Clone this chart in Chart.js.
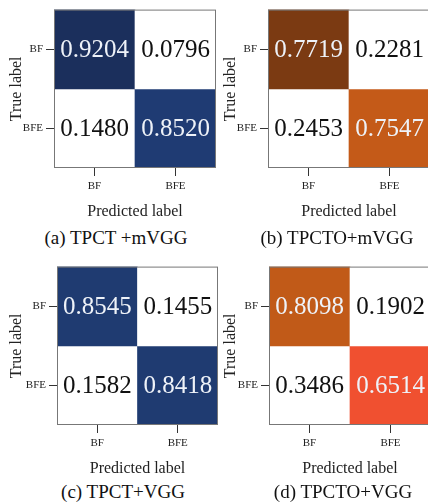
<!DOCTYPE html>
<html>
<head>
<meta charset="utf-8">
<script src="https://cdn.jsdelivr.net/npm/chart.js@4.4.1/dist/chart.umd.min.js"></script>
<style>
  html, body { margin: 0; padding: 0; background: #fff; overflow: hidden; width: 428px; height: 504px; }
  canvas { position: absolute; }
  .cap { position: absolute; font-family: 'Liberation Serif', 'Times New Roman', serif; font-size: 19px;
         color: #111; white-space: nowrap; transform: translateX(-50%); line-height: 20px; }
</style>
</head>
<body>
<canvas id="cmA" width="216" height="222" style="left:0;top:0"></canvas>
<canvas id="cmB" width="216" height="222" style="left:214px;top:0"></canvas>
<canvas id="cmC" width="218" height="222" style="left:0;top:257px"></canvas>
<canvas id="cmD" width="217" height="222" style="left:214px;top:257px"></canvas>
<div class="cap" id="capA" style="left:116px;top:228px"></div>
<div class="cap" id="capB" style="left:337px;top:228px"></div>
<div class="cap" id="capC" style="left:123px;top:482px"></div>
<div class="cap" id="capD" style="left:343px;top:482px"></div>
<script>
// labels
const predLabels = ['BF', 'BFE'];
const trueLabels = ['BF', 'BFE'];
const captions = ['(a) TPCT +mVGG', '(b) TPCTO+mVGG', '(c) TPCT+VGG', '(d) TPCTO+VGG'];

// confusion matrices, rows = true label, cols = predicted label
const matA = [[0.9204, 0.0796], [0.1480, 0.8520]];
const matB = [[0.7719, 0.2281], [0.2453, 0.7547]];
const matC = [[0.8545, 0.1455], [0.1582, 0.8418]];
const matD = [[0.8098, 0.1902], [0.3486, 0.6514]];

const WHITE = '#ffffff';
const colorsA = [['#1b2f5c', WHITE], [WHITE, '#1f3b73']];
const colorsB = [['#7b3a12', WHITE], [WHITE, '#c45a18']];
const colorsC = [['#1f3b71', WHITE], [WHITE, '#1f3b71']];
const colorsD = [['#c15a18', WHITE], [WHITE, '#f05030']];

const SERIF = "'Liberation Serif', 'Times New Roman', serif";

// draws the cell values and the frame round the plot
const cellText = {
  id: 'cellText',
  afterDatasetsDraw(chart, args, opts) {
    const ctx = chart.ctx;
    ctx.save();
    ctx.font = '25px ' + SERIF;
    ctx.textAlign = 'center';
    ctx.textBaseline = 'middle';
    chart.data.datasets.forEach((ds, i) => {
      chart.getDatasetMeta(i).data.forEach((bar, j) => {
        ctx.fillStyle = i === j ? '#eef2f8' : '#111';
        ctx.fillText(opts.values[i][j].toFixed(4), bar.x, (bar.y + bar.base) / 2 + 1);
      });
    });
    const a = chart.chartArea;
    ctx.strokeStyle = '#777';
    ctx.lineWidth = 1;
    ctx.strokeRect(a.left + 0.5, a.top + 0.5, a.right - a.left - 1, a.bottom - a.top - 1);
    ctx.restore();
  }
};

function makeMatrix(id, values, colors, yWidth) {
  new Chart(document.getElementById(id), {
    type: 'bar',
    data: {
      labels: predLabels,
      datasets: trueLabels.map((row, i) => ({
        label: row,
        data: [1, 1],
        backgroundColor: colors[i],
        borderWidth: 0,
        barPercentage: 1,
        categoryPercentage: 1
      }))
    },
    options: {
      responsive: false,
      animation: false,
      layout: { padding: { top: 7, right: 0, bottom: 0, left: 0 } },
      plugins: {
        legend: { display: false },
        tooltip: { enabled: false },
        cellText: { values }
      },
      scales: {
        x: {
          stacked: true,
          offset: true,
          grid: { offset: false, drawOnChartArea: false, tickLength: 8, color: '#333' },
          border: { display: false },
          ticks: { color: '#222', padding: 4, font: { family: SERIF, size: 11 } },
          title: { display: true, text: 'Predicted label', color: '#222',
                   font: { family: SERIF, size: 16 }, padding: { top: 0, bottom: 1 } },
          afterFit: s => { s.height = 54; }
        },
        y: {
          stacked: true,
          reverse: true,
          min: 0,
          max: 2,
          grid: { drawOnChartArea: false, tickLength: 8, color: '#333' },
          border: { display: false },
          afterBuildTicks: s => { s.ticks = [{ value: 0.5 }, { value: 1.5 }]; },
          ticks: { color: '#222', padding: 3, font: { family: SERIF, size: 11 },
                   callback: (v, i) => trueLabels[i] },
          title: { display: true, text: 'True label', color: '#222',
                   font: { family: SERIF, size: 16 }, padding: { top: 7, bottom: 0 } },
          afterFit: s => { s.width = yWidth; }
        }
      }
    },
    plugins: [cellText]
  });
}

makeMatrix('cmA', matA, colorsA, 54);
makeMatrix('cmB', matB, colorsB, 54);
makeMatrix('cmC', matC, colorsC, 57);
makeMatrix('cmD', matD, colorsD, 55);

['capA', 'capB', 'capC', 'capD'].forEach((id, i) => {
  document.getElementById(id).textContent = captions[i];
});
</script>
</body>
</html>
